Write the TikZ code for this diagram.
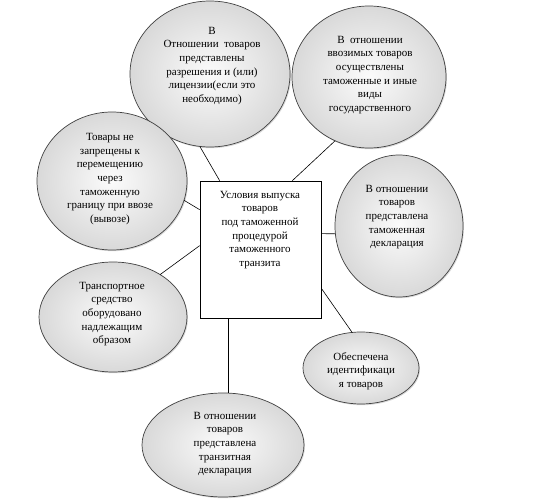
\documentclass[tikz,border=0pt]{standalone}
\usepackage{fontspec}
\setmainfont{Liberation Serif}
\usetikzlibrary{shapes.geometric,shadows}
\begin{document}
\begin{tikzpicture}[x=1pt,y=-1pt,
  oval/.style={ellipse,draw=black!75,line width=0.7pt,inner sep=0pt,outer sep=0pt,
    shade,inner color=gray!3,outer color=gray!30,
    drop shadow={shadow xshift=1pt,shadow yshift=-1.2pt,opacity=0.3}},
  lbl/.style={align=center,inner sep=0pt,font=\fontsize{11}{13.7}\selectfont},
  link/.style={draw=black,line width=0.6pt}]
\useasboundingbox (0,0) rectangle (541,503);
% ellipses
\node[oval,minimum width=160pt,minimum height=146pt] (e1) at (210,74) {};
\node[oval,minimum width=154pt,minimum height=142pt] (e2) at (369,77) {};
\node[oval,minimum width=150pt,minimum height=138pt] (e3) at (112,181) {};
\node[oval,minimum width=128pt,minimum height=142pt] (e4) at (399,226) {};
\node[oval,minimum width=148pt,minimum height=110pt] (e5) at (113,317) {};
\node[oval,minimum width=116pt,minimum height=72pt] (e6) at (361,368) {};
\node[oval,minimum width=162pt,minimum height=104pt] (e7) at (223,445) {};
% centre box
\node[draw=black,line width=0.7pt,fill=white,minimum width=121pt,minimum height=137pt,inner sep=0pt] (rect) at (260.5,249.5) {};
% texts
\node[lbl] (t1) at (212,66) {В\\Отношении\ \ товаров\\представлены\\разрешения и (или)\\лицензии(если это\\необходимо)};
\node[lbl] (t2) at (370,75) {В\ \ отношении\\ввозимых товаров\\осуществлены\\таможенные и иные\\виды\\государственного};
\node[lbl] (t3) at (110,179) {Товары не\\запрещены к\\перемещению\\через\\таможенную\\границу при ввозе\\(вывозе)};
\node[lbl] (t0) at (260,230) {Условия выпуска\\товаров\\под таможенной\\процедурой\\таможенного\\транзита};
\node[lbl] (t4) at (397,217) {В отношении\\товаров\\представлена\\таможенная\\декларация};
\node[lbl] (t5) at (112,314) {Транспортное\\средство\\оборудовано\\надлежащим\\образом};
\node[lbl] (t6) at (361,371) {Обеспечена\\идентификаци\\я товаров};
\node[lbl] (t7) at (225,444) {В отношении\\товаров\\представлена\\транзитная\\декларация};
% connectors
\draw[link] (e1.262) -- ([xshift=20pt]rect.north west);
\draw[link] (e2.242) -- ([xshift=-29pt]rect.north east);
\draw[link] (e3.345) -- ([yshift=-29pt]rect.north west);
\draw[link] (e4.187) -- ([yshift=-53pt]rect.north east);
\draw[link] (e5.42) -- ([yshift=-65pt]rect.north west);
\draw[link] (e6.104) -- ([yshift=30pt]rect.south east);
\coordinate (b7) at ([xshift=29pt]rect.south west);
\draw[link] (b7) -- (b7 |- e7.north);
\end{tikzpicture}
\end{document}
